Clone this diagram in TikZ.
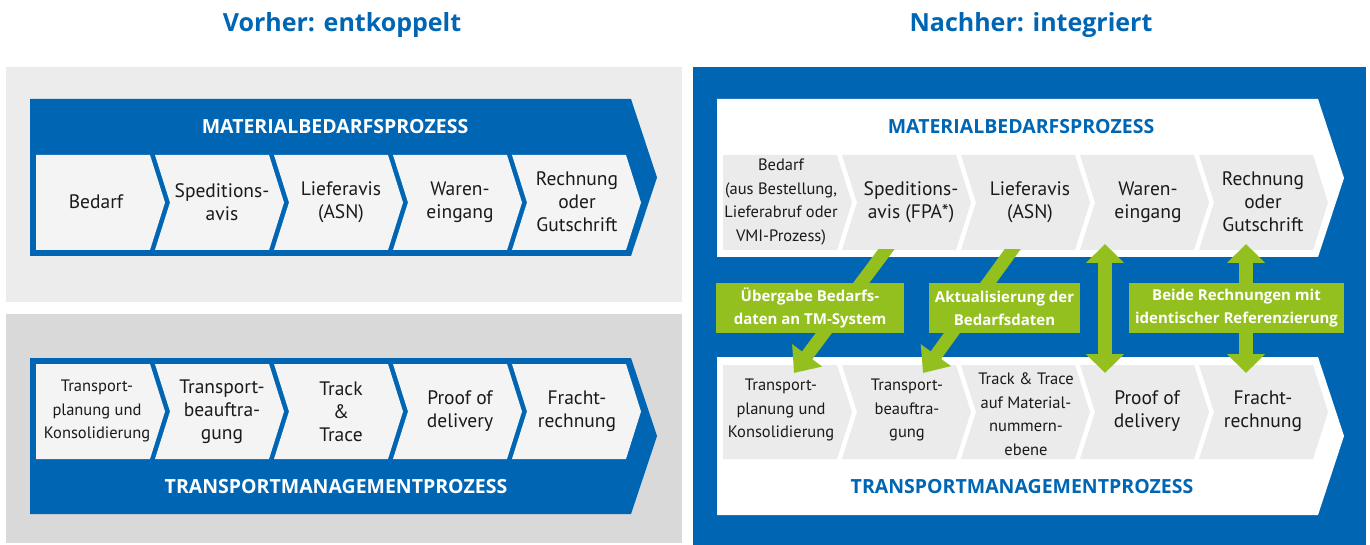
\documentclass[tikz,border=0pt]{standalone}
\usepackage{fontspec}
\setmainfont{PT Sans}
\newfontfamily\hfont{Open Sans}
\usetikzlibrary{arrows.meta}
\definecolor{sapblue}{RGB}{0,102,179}
\definecolor{lgreen}{RGB}{147,192,31}
\definecolor{panelA}{RGB}{236,236,236}
\definecolor{panelB}{RGB}{217,217,217}
\definecolor{chevL}{RGB}{244,244,244}
\definecolor{chevR}{RGB}{235,235,235}
\definecolor{txt}{RGB}{26,26,26}
\newcommand{\chevFirst}[4]{\fill[#4] (#1,#2) -- ({#1+114},#2) -- ({#1+129},{(#2+#3)/2}) -- ({#1+114},#3) -- (#1,#3) -- cycle;}
\newcommand{\chevNext}[4]{\fill[#4] (#1,#2) -- ({#1+114},#2) -- ({#1+129},{(#2+#3)/2}) -- ({#1+114},#3) -- (#1,#3) -- ({#1+15},{(#2+#3)/2}) -- cycle;}
\begin{document}
\begin{tikzpicture}[x=1pt,y=-1pt,
  big/.style={font=\fontsize{19.5}{23}\selectfont, text=txt, align=center, inner sep=0pt},
  small/.style={font=\fontsize{16.5}{23.5}\selectfont, text=txt, align=center, inner sep=0pt},
  head/.style={font=\hfont\bfseries\fontsize{19.5}{22}\selectfont, inner sep=0pt},
  title/.style={font=\hfont\bfseries\fontsize{25}{28}\selectfont, text=sapblue, inner sep=0pt},
  glabel/.style={fill=lgreen, text=white, font=\hfont\bfseries\fontsize{15}{23}\selectfont, align=center, inner sep=0pt, minimum height=50pt},
  garrow/.style={draw=lgreen, line width=13pt, -{Triangle[width=36pt,length=22pt]}},
  gdouble/.style={draw=lgreen, line width=14pt, {Triangle[width=37pt,length=19pt]}-{Triangle[width=37pt,length=19pt]}}
]
\useasboundingbox (0,0) rectangle (1370,545);
\fill[white] (0,0) rectangle (1370,545);

% titles
\node[title] (t1) at (342,25) {Vorher: entkoppelt};
\node[title] (t2) at (1031,25) {Nachher: integriert};

% panels
\fill[panelA] (6,67) rectangle (682,302);
\fill[panelB] (6,314) rectangle (682,543);
\fill[sapblue] (693,67) rectangle (1366,545);

% ---------- left: Materialbedarfsprozess ----------
\fill[sapblue] (30,99) -- (631,99) -- (657,177.5) -- (631,256) -- (30,256) -- cycle;
\node[head, text=white] (lh1) at (335,127) {MATERIALBEDARFSPROZESS};
\chevFirst{36}{155}{250}{chevL}
\chevNext{155}{155}{250}{chevL}
\chevNext{274}{155}{250}{chevL}
\chevNext{393}{155}{250}{chevL}
\chevNext{512}{155}{250}{chevL}
\node[big] (la1) at (96,202) {Bedarf};
\node[big] (la2) at (222,202) {Speditions-\\avis};
\node[big] (la3) at (341,202) {Lieferavis\\(ASN)};
\node[big] (la4) at (460,202) {Waren-\\eingang};
\node[big] (la5) at (577,202) {Rechnung\\oder\\Gutschrift};

% ---------- left: Transportmanagementprozess ----------
\fill[sapblue] (30,358) -- (631,358) -- (657,436) -- (631,514) -- (30,514) -- cycle;
\node[head, text=white] (lh2) at (336,487) {TRANSPORTMANAGEMENTPROZESS};
\chevFirst{36}{364}{459}{chevL}
\chevNext{155}{364}{459}{chevL}
\chevNext{274}{364}{459}{chevL}
\chevNext{393}{364}{459}{chevL}
\chevNext{512}{364}{459}{chevL}
\node[small] (lb1) at (97,411) {Transport-\\planung und\\Konsolidierung};
\node[big] (lb2) at (222,412) {Transport-\\beauftra-\\gung};
\node[big] (lb3) at (341,412) {Track\\\&\\Trace};
\node[big] (lb4) at (460,411) {Proof of\\delivery};
\node[big] (lb5) at (577,411) {Fracht-\\rechnung};

% ---------- right: Materialbedarfsprozess ----------
\fill[white] (717,99) -- (1318,99) -- (1344,178) -- (1318,257) -- (717,257) -- cycle;
\node[head, text=sapblue] (rh1) at (1021,127) {MATERIALBEDARFSPROZESS};
\chevFirst{723}{155}{250}{chevR}
\chevNext{842}{155}{250}{chevR}
\chevNext{961}{155}{250}{chevR}
\chevNext{1080}{155}{250}{chevR}
\chevNext{1199}{155}{250}{chevR}
\node[small] (ra1) at (781,202) {Bedarf\\(aus Bestellung,\\Lieferabruf oder\\VMI-Prozess)};
\node[big] (ra2) at (911,202) {Speditions-\\avis (FPA*)};
\node[big] (ra3) at (1030,202) {Lieferavis\\(ASN)};
\node[big] (ra4) at (1148,202) {Waren-\\eingang};
\node[big] (ra5) at (1263,202) {Rechnung\\oder\\Gutschrift};

% ---------- right: Transportmanagementprozess ----------
\fill[white] (717,357) -- (1318,357) -- (1344,436) -- (1318,515) -- (717,515) -- cycle;
\node[head, text=sapblue] (rh2) at (1022,487) {TRANSPORTMANAGEMENTPROZESS};
\chevFirst{723}{365}{459}{chevR}
\chevNext{842}{365}{459}{chevR}
\chevNext{961}{365}{459}{chevR}
\chevNext{1080}{365}{459}{chevR}
\chevNext{1199}{365}{459}{chevR}
\node[small] (rb1) at (781,410) {Transport-\\planung und\\Konsolidierung};
\node[small] (rb2) at (907,410) {Transport-\\beauftra-\\gung};
\node[small] (rb3) at (1026,414) {Track \& Trace\\auf Material-\\nummern-\\ebene};
\node[big] (rb4) at (1147,411) {Proof of\\delivery};
\node[big] (rb5) at (1263,411) {Fracht-\\rechnung};

% ---------- green arrows ----------
\coordinate (d1s) at (894,239);
\coordinate (d1e) at (794,373);
\coordinate (d2s) at (1020,239);
\coordinate (d2e) at (923,373);
\begin{scope}
\clip (690,250) rectangle (1370,545);
\draw[garrow] (d1s) -- (d1e);
\draw[garrow] (d2s) -- (d2e);
\end{scope}
\coordinate (v1s) at (1105,244);
\coordinate (v1e) at (1105,373);
\coordinate (v2s) at (1246,244);
\coordinate (v2e) at (1246,373);
\draw[gdouble] (v1s) -- (v1e);
\draw[gdouble] (v2s) -- (v2e);

\node[glabel, minimum width=188pt] (g1) at (810,308) {Übergabe Bedarfs-\\daten an TM-System};
\node[glabel, minimum width=151pt] (g2) at (1004.5,308) {Aktualisierung der\\Bedarfsdaten};
\node[glabel, minimum width=215pt] (g3) at (1236.5,308) {Beide Rechnungen mit\\identischer Referenzierung};
\end{tikzpicture}
\end{document}
